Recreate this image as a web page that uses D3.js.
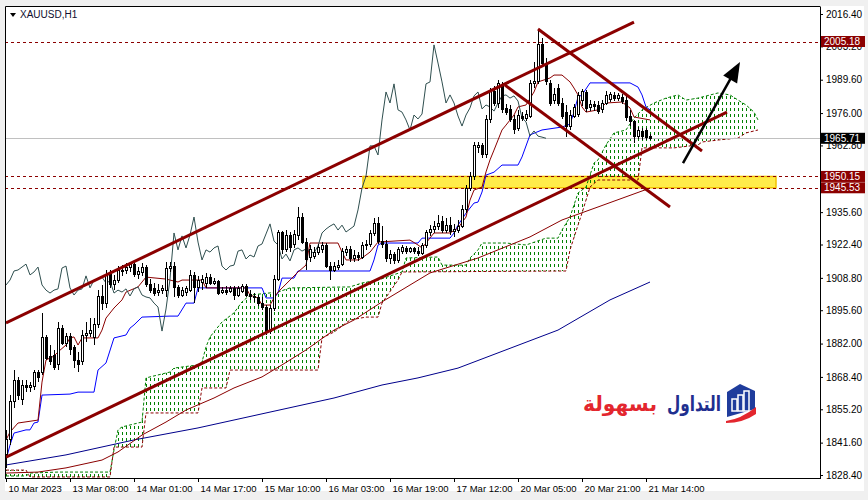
<!DOCTYPE html>
<html>
<head>
<meta charset="utf-8">
<title>XAUUSD,H1</title>
<script src="https://cdn.jsdelivr.net/npm/d3@7"></script>
<style>
  body { margin: 0; background: #fff; }
  svg { display: block; font-family: "Liberation Sans", Arial, sans-serif; }
</style>
</head>
<body>
<svg width="868" height="500"></svg>
<script>
// ---- data (H1 candles) ----
const open = [1836.6,1842.7,1858.2,1867.1,1859.0,1865.1,1863.9,1864.3,1870.0,1870.4,
  1884.3,1876.9,1877.3,1873.3,1888.3,1882.2,1884.7,1880.2,1875.3,1874.5,
  1885.1,1886.3,1884.3,1889.6,1901.0,1898.5,1910.0,1905.9,1907.9,1911.6,
  1912.0,1913.2,1914.4,1910.0,1910.8,1913.2,1905.9,1904.3,1903.0,1903.8,
  1903.8,1912.8,1913.6,1904.7,1901.8,1903.0,1903.8,1909.6,1904.7,1907.1,
  1906.7,1909.1,1906.7,1907.5,1903.0,1903.8,1903.4,1904.3,1901.8,1903.4,
  1905.1,1902.2,1901.0,1900.6,1898.5,1896.9,1887.1,1896.1,1908.3,1927.1,
  1920.2,1925.9,1922.2,1925.9,1933.6,1923.4,1916.9,1917.7,1919.3,1920.2,
  1921.8,1913.6,1912.0,1913.2,1914.4,1919.3,1920.2,1916.5,1918.1,1917.3,
  1921.8,1922.6,1926.7,1930.8,1923.8,1922.2,1916.5,1918.5,1915.7,1919.7,
  1920.6,1919.7,1920.6,1919.7,1918.9,1921.8,1927.1,1928.7,1929.9,1931.6,
  1928.3,1930.3,1927.5,1928.3,1929.9,1936.5,1945.4,1950.3,1961.8,1962.6,
  1958.9,1973.2,1984.6,1980.1,1987.0,1977.7,1977.3,1973.2,1969.9,1974.8,
  1973.6,1974.8,1987.9,1988.7,2003.8,1996.4,1987.9,1981.3,1986.2,1980.1,
  1976.4,1970.7,1974.8,1975.6,1981.3,1984.2,1978.1,1979.3,1978.9,1977.3,
  1980.1,1981.7,1983.0,1982.1,1982.5,1981.3,1974.8,1972.4,1966.6,1968.3,
  1968.7,1966.6];
const high = [1846.8,1861.0,1871.2,1868.4,1867.1,1867.1,1866.3,1871.2,1871.2,1894.5,
  1885.5,1881.4,1879.4,1890.8,1889.6,1886.3,1886.3,1881.4,1878.6,1887.5,
  1890.8,1892.4,1892.4,1903.8,1905.9,1912.0,1912.0,1910.0,1913.6,1914.0,
  1914.9,1915.3,1915.3,1913.2,1914.9,1914.0,1908.3,1906.7,1906.3,1905.9,
  1915.3,1915.3,1915.3,1905.9,1905.1,1905.5,1912.0,1911.2,1909.6,1910.0,
  1910.8,1910.4,1908.7,1907.9,1905.1,1905.5,1905.5,1905.5,1905.5,1906.3,
  1906.3,1903.8,1902.6,1901.8,1901.0,1897.7,1897.7,1910.0,1928.3,1927.9,
  1928.3,1927.5,1928.3,1937.7,1935.2,1925.0,1922.2,1921.4,1922.6,1923.4,
  1923.0,1915.3,1915.3,1916.1,1921.0,1921.8,1921.8,1920.2,1919.3,1923.4,
  1924.2,1928.3,1933.2,1933.6,1929.9,1924.2,1920.2,1919.3,1921.4,1922.2,
  1921.8,1921.4,1921.4,1921.4,1923.0,1928.3,1930.3,1932.0,1934.4,1934.0,
  1933.2,1933.6,1930.8,1932.4,1938.5,1946.7,1952.0,1964.2,1964.2,1963.8,
  1975.2,1986.2,1987.0,1989.5,1988.7,1979.7,1979.3,1975.2,1977.3,1976.4,
  1977.3,1989.5,1996.8,2010.3,2006.6,1998.5,1989.5,1986.2,1987.9,1982.1,
  1979.3,1977.3,1979.7,1984.6,1985.8,1985.4,1981.3,1980.9,1980.9,1981.3,
  1985.0,1984.6,1984.6,1984.2,1983.8,1983.0,1977.3,1973.2,1970.3,1969.9,
  1969.9,1967.5];
const low = [1831.3,1840.6,1855.7,1859.0,1856.9,1862.2,1862.2,1863.1,1866.3,1869.2,
  1875.3,1873.3,1871.2,1871.2,1881.4,1880.6,1877.3,1872.0,1870.4,1873.3,
  1882.6,1884.7,1881.4,1888.3,1895.7,1896.5,1904.7,1903.8,1906.7,1909.6,
  1910.4,1911.2,1909.1,1908.3,1909.6,1905.1,1902.6,1901.4,1901.4,1902.2,
  1901.0,1911.2,1901.0,1900.6,1901.0,1901.4,1903.0,1898.5,1903.0,1903.8,
  1904.7,1905.9,1905.9,1901.8,1902.2,1901.8,1902.6,1899.8,1901.0,1902.6,
  1901.0,1899.8,1899.0,1897.3,1895.7,1885.5,1885.9,1895.3,1907.5,1918.5,
  1919.3,1919.3,1921.0,1924.2,1922.6,1912.0,1915.3,1916.5,1918.1,1918.9,
  1912.8,1907.9,1911.2,1912.0,1913.6,1917.7,1915.3,1915.3,1915.7,1916.5,
  1920.2,1921.4,1925.9,1922.6,1921.0,1915.3,1914.4,1914.4,1914.9,1918.5,
  1918.5,1918.9,1918.5,1917.7,1918.1,1921.0,1925.9,1927.1,1928.3,1927.1,
  1927.1,1926.3,1925.5,1927.1,1929.1,1935.2,1944.2,1948.7,1959.7,1957.7,
  1957.7,1972.0,1978.9,1978.1,1976.0,1975.2,1972.4,1967.5,1968.7,1972.8,
  1972.8,1974.0,1986.2,1987.9,1995.2,1987.4,1978.9,1979.7,1978.9,1973.6,
  1966.2,1969.1,1974.0,1974.4,1978.9,1976.4,1976.8,1976.8,1975.6,1976.0,
  1979.3,1980.5,1980.9,1980.9,1979.7,1972.8,1970.7,1963.8,1965.4,1965.0,
  1965.0,1965.0];
const close = [1842.7,1858.2,1867.1,1861.0,1865.1,1863.9,1864.7,1870.0,1868.0,1884.3,
  1876.1,1874.5,1872.4,1888.3,1882.2,1884.7,1879.4,1875.3,1873.3,1885.1,
  1886.3,1887.5,1889.6,1901.0,1898.5,1910.0,1905.9,1907.9,1911.6,1912.0,
  1913.2,1914.4,1910.0,1911.2,1913.2,1905.9,1903.8,1902.6,1903.8,1904.3,
  1912.8,1913.6,1904.7,1901.8,1903.8,1904.3,1909.6,1904.7,1907.9,1908.3,
  1909.1,1906.7,1907.5,1902.6,1903.8,1903.0,1904.3,1901.4,1904.3,1905.1,
  1901.8,1901.0,1900.6,1898.5,1896.9,1887.1,1896.1,1908.3,1927.1,1920.2,
  1925.9,1921.0,1926.3,1933.6,1923.4,1916.1,1920.2,1919.3,1921.0,1921.8,
  1913.6,1912.0,1913.6,1914.0,1919.7,1920.2,1916.5,1918.1,1917.3,1921.8,
  1922.6,1926.7,1930.8,1923.8,1922.2,1916.5,1918.5,1915.7,1920.2,1921.0,
  1919.7,1920.6,1919.7,1918.9,1921.8,1927.1,1928.7,1929.9,1930.8,1928.3,
  1930.3,1927.5,1928.7,1929.9,1936.5,1945.4,1950.3,1962.6,1962.6,1958.9,
  1973.2,1984.6,1980.1,1987.9,1977.3,1976.4,1973.2,1969.1,1975.2,1973.6,
  1975.6,1987.9,1988.7,2003.8,1996.4,1988.7,1980.1,1983.4,1980.1,1974.8,
  1970.7,1975.2,1978.1,1983.0,1984.6,1977.7,1979.3,1978.5,1976.8,1980.1,
  1983.0,1983.4,1982.1,1983.0,1980.9,1974.0,1972.4,1966.6,1968.7,1966.6,
  1966.2,1965.71];

// indicator lines, [bar index, price]
const tenkan = [[0,1842.7],[1,1845.9],[3,1849.6],[8,1850.8],[9,1866.3],[10,1875.3],[12,1876.9],
  [13,1878.6],[15,1881.4],[16,1884.3],[17,1884.7],[18,1881.4],[19,1884.3],[23,1884.3],[24,1887.5],
  [25,1892.4],[27,1896.5],[29,1899.8],[30,1903.0],[33,1905.1],[34,1907.1],[35,1909.1],[40,1908.3],
  [43,1907.1],[44,1907.9],[49,1907.9],[50,1904.7],[60,1904.7],[61,1901.8],[63,1900.6],[64,1897.7],
  [66,1897.7],[67,1900.6],[68,1903.0],[71,1907.9],[73,1911.2],[75,1914.0],[76,1923.0],[83,1923.0],
  [84,1919.3],[85,1916.1],[88,1916.1],[89,1916.9],[91,1919.3],[93,1923.4],[101,1924.2],[103,1922.2],
  [104,1921.0],[105,1923.0],[107,1927.1],[111,1927.1],[113,1929.1],[115,1933.6],[116,1940.5],
  [117,1944.6],[119,1945.8],[120,1952.0],[121,1956.9],[122,1960.9],[123,1965.0],[124,1969.1],
  [125,1971.1],[127,1975.2],[128,1978.5],[130,1979.3],[132,1984.6],[133,1988.7],[136,1990.3],
  [137,1991.5],[139,1991.5],[141,1988.7],[142,1986.2],[143,1983.4],[144,1978.5],[145,1976.4],
  [148,1977.3],[149,1978.5],[150,1980.1],[154,1980.5],[156,1978.1],[157,1974.4],[161,1973.2]];
const kijun = [[0,1834.5],[1,1840.6],[2,1845.5],[5,1846.8],[6,1846.8],[7,1849.6],[8,1850.0],
  [9,1861.0],[16,1861.4],[18,1862.2],[22,1862.2],[23,1871.2],[25,1874.1],[27,1884.3],[30,1885.5],
  [31,1888.3],[32,1889.6],[34,1892.8],[41,1893.2],[43,1893.2],[45,1898.5],[47,1898.5],[48,1904.7],
  [64,1904.7],[65,1900.6],[67,1900.6],[68,1902.6],[69,1908.7],[72,1908.7],[73,1911.6],[91,1911.6],
  [92,1916.1],[93,1922.2],[94,1923.0],[103,1923.0],[104,1925.0],[111,1925.0],[112,1927.1],
  [113,1930.3],[115,1935.2],[117,1939.3],[118,1939.7],[119,1943.8],[120,1950.7],[122,1951.9],
  [124,1954.8],[128,1954.8],[129,1958.1],[131,1967.1],[134,1969.1],[139,1970.3],[141,1971.5],
  [142,1976.4],[143,1982.5],[144,1983.4],[146,1988.3],[156,1988.3],[158,1986.6],[159,1983.4],
  [160,1978.5],[161,1977.3]];
const spanA = [[0,1828.0],[5,1828.0],[6,1829.2],[13,1829.6],[26,1829.6],[27,1838.6],[28,1846.8],
  [29,1848.0],[34,1850.0],[35,1868.0],[41,1870.4],[42,1872.0],[48,1873.3],[49,1874.5],[50,1880.6],
  [51,1884.7],[53,1888.8],[54,1890.8],[57,1894.5],[59,1899.0],[61,1901.8],[68,1903.0],[71,1904.7],
  [86,1905.1],[89,1906.7],[93,1907.9],[99,1911.2],[100,1916.9],[108,1917.3],[109,1914.0],
  [115,1914.0],[116,1916.9],[118,1920.2],[119,1923.0],[125,1923.0],[130,1922.2],[135,1925.0],
  [138,1925.0],[139,1928.3],[141,1933.6],[143,1943.4],[145,1945.8],[147,1955.6],[148,1956.9],
  [150,1963.0],[152,1967.9],[155,1969.1],[157,1974.0],[159,1977.3],[162,1980.1],[165,1982.1],
  [168,1983.4],[170,1981.3],[173,1982.1],[178,1984.2],[181,1983.4],[183,1981.3],[185,1979.3],
  [187,1976.4],[188,1973.2]];
const spanB = [[0,1830.4],[5,1830.4],[6,1827.6],[26,1827.6],[27,1839.8],[34,1839.8],[35,1853.7],
  [48,1853.7],[49,1863.9],[55,1863.9],[56,1871.2],[78,1871.2],[79,1884.3],[82,1886.7],[86,1891.6],
  [90,1892.8],[93,1892.8],[94,1898.5],[98,1907.9],[99,1911.2],[140,1911.6],[141,1920.2],
  [143,1930.3],[144,1935.2],[146,1945.8],[148,1948.7],[158,1948.7],[159,1961.8],[167,1961.8],
  [173,1963.0],[174,1964.2],[178,1965.0],[183,1965.8],[185,1967.9],[188,1969.1]];
const maFast = [[0,1829.2],[8,1829.6],[15,1831.3],[24,1834.5],[28,1837.8],[34,1844.7],[40,1850.0],
  [45,1854.9],[52,1859.8],[57,1863.9],[64,1868.4],[69,1873.3],[75,1879.4],[82,1887.5],[87,1891.6],
  [94,1899.0],[106,1910.8],[118,1916.9],[131,1925.5],[139,1932.4],[148,1937.7],[161,1945.4]];
const maSlow = [[0,1832.5],[15,1836.6],[32,1842.7],[48,1847.6],[65,1853.7],[82,1859.8],[94,1865.1],
  [103,1868.0],[113,1872.0],[138,1887.5],[151,1899.8],[161,1907.1]];

// drawn objects
const channelUpper = [[0,1890.4],[157,2013.1]];
const channelLower = [[0,1835.7],[180.25,1976.4]];
const wedgeUpper = [[133,2010.3],[174,1960.5]];
const wedgeLower = [[124.75,1987.4],[166,1937.7]];
const arrowPts = [[169.25,1955.6],[183.5,1996.8]];
const levels = [2005.18, 1950.15, 1945.53];
const lastPrice = 1965.71;
const zoneBars = [89.25, 192.5];
const zonePrices = [1945.53, 1950.15];

// 1949.20 sits fully under the level tags, so only its tick mark shows
const priceTicks = [2016.40,2003.20,1989.60,1976.00,1962.80,1949.20,1935.60,1922.40,1908.80,
  1895.60,1882.00,1868.40,1855.20,1841.60,1828.40];
const hiddenTicks = [1949.20];
const timeIdx = [0,16,32,48,64,80,96,112,128,144,160];
const timeLabels = ['10 Mar 2023','13 Mar 08:00','14 Mar 01:00','14 Mar 17:00','15 Mar 10:00',
  '16 Mar 03:00','16 Mar 19:00','17 Mar 12:00','20 Mar 05:00','20 Mar 21:00','21 Mar 14:00'];
const chikouShift = 26;

// ---- layout ----
const svg = d3.select('svg');
const W = 868, H = 500;
const L = 5, R = 820, T = 6, B = 478;
const x = d3.scaleLinear().domain([0, 200]).range([6, 806]);
const y = d3.scaleLinear().domain([1827.18, 2019.66]).range([B, T]);
const line = d3.line().x(d => x(d[0])).y(d => y(d[1]));

svg.append('rect').attr('width', W).attr('height', H).attr('fill', '#f0f0f0');
svg.append('rect').attr('x', L).attr('y', T).attr('width', W - L - 4).attr('height', 491 - T)
  .attr('fill', '#fff');

const defs = svg.append('defs');
defs.append('clipPath').attr('id', 'plot')
  .append('rect').attr('x', L + 1).attr('y', T + 1).attr('width', R - L - 1).attr('height', B - T - 1);
const pat = defs.append('pattern').attr('id', 'hatch').attr('patternUnits', 'userSpaceOnUse')
  .attr('x', 6).attr('y', 0).attr('width', 4).attr('height', 6);
pat.append('rect').attr('x', 0).attr('y', 0).attr('width', 1).attr('height', 3).attr('fill', '#008000');

const plot = svg.append('g').attr('clip-path', 'url(#plot)');

// yellow zone (background)
plot.append('rect')
  .attr('x', x(zoneBars[0])).attr('width', x(zoneBars[1]) - x(zoneBars[0]))
  .attr('y', y(zonePrices[1])).attr('height', y(zonePrices[0]) - y(zonePrices[1]))
  .attr('fill', '#ffec4a').attr('stroke', '#f2c200').attr('stroke-width', 1.5);

// cloud
const cloudD = line(spanA) + 'L' + line(spanB.slice().reverse()).slice(1) + 'Z';
plot.append('path').attr('d', cloudD).attr('fill', 'url(#hatch)');
plot.append('path').attr('d', line(spanA)).attr('fill', 'none')
  .attr('stroke', '#008000').attr('stroke-dasharray', '3,2');
plot.append('path').attr('d', line(spanB)).attr('fill', 'none')
  .attr('stroke', '#8b0000').attr('stroke-dasharray', '3,2');

// moving averages
plot.append('path').attr('d', line(maSlow)).attr('fill', 'none').attr('stroke', '#00008b');
plot.append('path').attr('d', line(maFast)).attr('fill', 'none').attr('stroke', '#8b0000');

// horizontal levels
plot.selectAll('.lvl').data(levels).join('line').attr('class', 'lvl')
  .attr('x1', L).attr('x2', R).attr('y1', d => Math.round(y(d)) + 0.5).attr('y2', d => Math.round(y(d)) + 0.5)
  .attr('stroke', '#8b0000').attr('stroke-dasharray', '3,3');
plot.append('line').attr('x1', L).attr('x2', R)
  .attr('y1', Math.round(y(lastPrice)) + 0.5).attr('y2', Math.round(y(lastPrice)) + 0.5)
  .attr('stroke', '#c0c0c0');

// ichimoku lines
plot.append('path').attr('d', line(kijun)).attr('fill', 'none').attr('stroke', '#0000ff');
plot.append('path').attr('d', line(tenkan)).attr('fill', 'none').attr('stroke', '#8b0000');
plot.append('path').datum(close)
  .attr('d', d3.line().x((d, i) => x(i - chikouShift)).y(d => y(d)))
  .attr('fill', 'none').attr('stroke', '#2f4f4f');

// candles
const idx = d3.range(close.length);
const cg = plot.append('g').attr('shape-rendering', 'crispEdges');
cg.selectAll('line').data(idx).join('line')
  .attr('x1', i => x(i) + 0.5).attr('x2', i => x(i) + 0.5)
  .attr('y1', i => y(high[i])).attr('y2', i => y(low[i]))
  .attr('stroke', '#000');
cg.selectAll('rect').data(idx).join('rect')
  .attr('x', i => x(i) - 0.5).attr('width', 2)
  .attr('y', i => y(Math.max(open[i], close[i])))
  .attr('height', i => Math.max(1, Math.abs(y(open[i]) - y(close[i]))))
  .attr('fill', i => close[i] >= open[i] ? '#fff' : '#000')
  .attr('stroke', '#000');

// trend lines
[channelUpper, channelLower, wedgeUpper, wedgeLower].forEach(pts => {
  plot.append('path').attr('d', line(pts)).attr('fill', 'none')
    .attr('stroke', '#8b0000').attr('stroke-width', 3);
});

// arrow
const a0 = [x(arrowPts[0][0]), y(arrowPts[0][1])];
const a1 = [x(arrowPts[1][0]), y(arrowPts[1][1])];
const len = Math.hypot(a1[0] - a0[0], a1[1] - a0[1]);
const ux = (a1[0] - a0[0]) / len, uy = (a1[1] - a0[1]) / len;
const hl = 20, hw = 8;
const bx = a1[0] - ux * hl, by = a1[1] - uy * hl;
plot.append('line').attr('x1', a0[0]).attr('y1', a0[1]).attr('x2', bx + ux * 2).attr('y2', by + uy * 2)
  .attr('stroke', '#000').attr('stroke-width', 2.5);
plot.append('path')
  .attr('d', `M${a1[0]},${a1[1]}L${bx - uy * hw},${by + ux * hw}L${bx + uy * hw},${by - ux * hw}Z`)
  .attr('fill', '#000');

// ---- axes ----
const fmt = d3.format('.2f');
const yAxis = d3.axisRight(y).tickValues(priceTicks)
  .tickFormat(d => hiddenTicks.includes(d) ? '' : fmt(d))
  .tickSize(3).tickSizeOuter(0).tickPadding(3);
const yg = svg.append('g').attr('transform', `translate(${R},0)`).call(yAxis);
yg.selectAll('text').attr('font-size', 10).attr('font-family', '"Liberation Sans", Arial').attr('fill', '#000');
yg.selectAll('line,path').attr('stroke', '#000');

const xAxis = d3.axisBottom(x).tickValues(timeIdx).tickFormat((d, i) => timeLabels[i])
  .tickSize(4).tickSizeOuter(0);
const xg = svg.append('g').attr('transform', `translate(0,${B})`).call(xAxis);
xg.select('.domain').remove();
xg.selectAll('line').attr('stroke', '#000');
xg.selectAll('text').attr('text-anchor', 'start').attr('x', 2).attr('y', 14).attr('dy', 0)
  .attr('font-size', 9.5).attr('font-family', '"Liberation Sans", Arial').attr('fill', '#000');

// frame
svg.append('path').attr('d', `M${L + 0.5},${B}V${T + 0.5}H${R}`).attr('fill', 'none').attr('stroke', '#000');
svg.append('line').attr('x1', L).attr('x2', R + 1).attr('y1', B + 0.5).attr('y2', B + 0.5).attr('stroke', '#000');

// price labels on the axis
const tagH = 11;
svg.selectAll('.tag').data(levels).join('g').attr('class', 'tag').each(function (d) {
  const g = d3.select(this);
  g.append('rect').attr('x', R + 1).attr('y', y(d) - tagH / 2).attr('width', 44).attr('height', tagH)
    .attr('fill', '#8b0000');
  g.append('text').attr('x', R + 4).attr('y', y(d)).attr('dy', '0.36em').attr('font-size', 10)
    .attr('fill', '#fff').text(fmt(d));
});
svg.append('rect').attr('x', R + 1).attr('y', y(lastPrice) - tagH / 2).attr('width', 44).attr('height', tagH)
  .attr('fill', '#000');
svg.append('text').attr('x', R + 4).attr('y', y(lastPrice)).attr('dy', '0.36em').attr('font-size', 10)
  .attr('fill', '#fff').text(fmt(lastPrice));

// title
svg.append('path').attr('d', 'M10,13L16,13L13,17Z').attr('fill', '#000');
svg.append('text').attr('x', 20).attr('y', 18).attr('font-size', 10).attr('fill', '#101030').text('XAUUSD,H1');

// logo
const logo = svg.append('g');
logo.append('text').attr('x', 667).attr('y', 411)
  .attr('textLength', 54).attr('lengthAdjust', 'spacingAndGlyphs')
  .attr('font-family', '"DejaVu Sans"').attr('font-weight', 'bold').attr('font-size', 21)
  .attr('fill', '#1f2f8f').text('التداول');
logo.append('text').attr('x', 583).attr('y', 411)
  .attr('textLength', 74).attr('lengthAdjust', 'spacingAndGlyphs')
  .attr('font-family', '"DejaVu Sans"').attr('font-weight', 'bold').attr('font-size', 21)
  .attr('fill', '#e3262e').text('بسهولة');
const ic = logo.append('g').attr('transform', 'translate(725,383)');
ic.append('path').attr('d', 'M2,9L15,1L30,8L30,26L2,34Z').attr('fill', '#1f3c9c');
[[7, 16, 5], [13, 12, 5], [19, 8, 5]].forEach(b => {
  ic.append('rect').attr('x', b[0]).attr('y', b[1]).attr('width', b[2]).attr('height', 28 - b[1])
    .attr('fill', 'none').attr('stroke', '#fff').attr('stroke-width', 1.5);
});
ic.append('path').attr('d', 'M1,38Q16,36 31,24L31,31Q18,40 1,40Z').attr('fill', '#e3262e');
</script>
</body>
</html>
